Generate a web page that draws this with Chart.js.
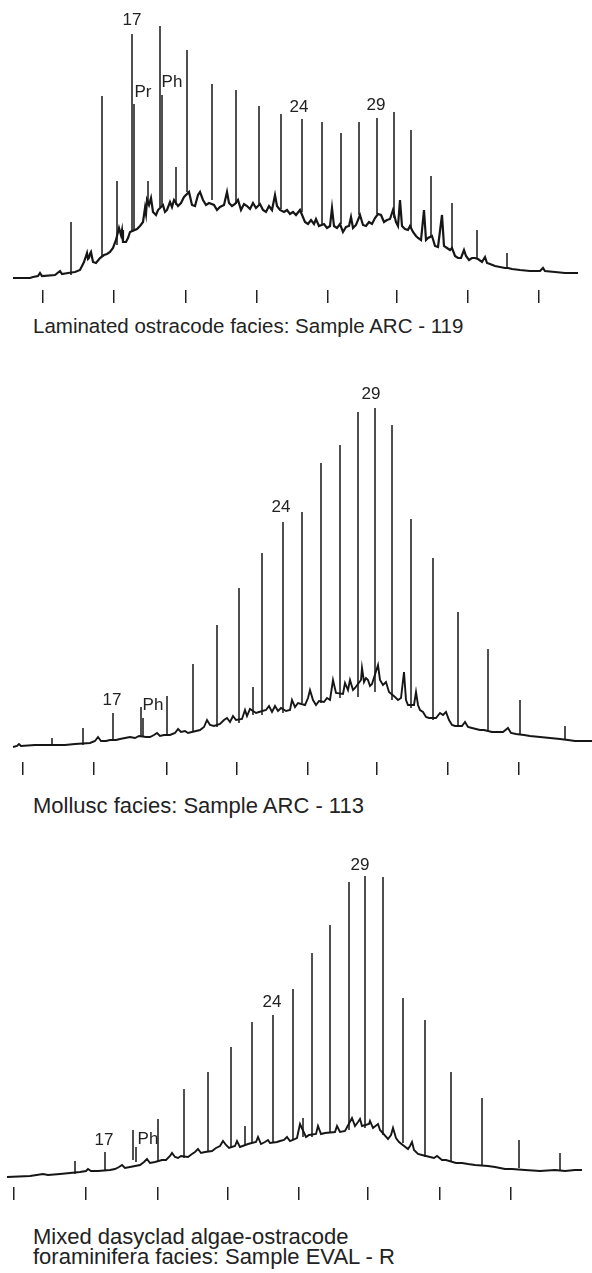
<!DOCTYPE html>
<html>
<head>
<meta charset="utf-8">
<title>n-alkane gas chromatograms</title>
<script src="https://cdn.jsdelivr.net/npm/chart.js@4.4.1/dist/chart.umd.min.js"></script>
<style>
  body { margin: 0; background: #fff; }
  #page { position: relative; width: 592px; height: 1273px; overflow: hidden; }
  canvas { position: absolute; left: 0; }
  .caption {
    position: absolute; left: 33px; white-space: nowrap;
    font: 22px/22px "Liberation Sans", Arial, sans-serif; color: #222;
  }
</style>
</head>
<body>
<div id="page">
  <canvas id="c1" width="592" height="303" style="top:0"></canvas>
  <div class="caption" style="top:315px;font-size:20.5px">Laminated ostracode facies: Sample ARC - 119</div>
  <canvas id="c2" width="592" height="395" style="top:380px"></canvas>
  <div class="caption" style="top:795px">Mollusc facies: Sample ARC - 113</div>
  <canvas id="c3" width="592" height="350" style="top:850px"></canvas>
  <div class="caption" style="top:1227px;line-height:20px">Mixed dasyclad algae-ostracode<br>foraminifera facies: Sample EVAL - R</div>
</div>
<script>
// retention positions of the time marks under each trace
const ticks1 = [43, 114, 186, 257, 328, 397, 468, 539];
const ticks2 = [23, 94, 167, 237, 308, 377, 448, 519];
const ticks3 = [14, 86, 158, 228, 299, 368, 440, 511];

// unresolved hump + small peaks: [retention, signal]
const hump1 = [[13,12],[30,12],[33,13],[38,14],[40,17],[42,14],[55,15],[60,19],[62,16],[68,17],[75,18],[80,20],
  [84,28],[86,34],[87,37],[88,31],[89,32],[90,36],[91,38],[93,28],[96,27],[100,32],[104,35],[107,36],[110,38],[113,42],[116,50],[119,62],
  [121,55],[122,60],[123,48],[126,48],[128,52],[130,58],[137,61],[140,64],[143,68],[145,82],[146,76],[147,90],[149,85],[151,92],
  [153,78],[156,75],[158,80],[163,85],[165,78],[167,80],[170,88],[172,83],[174,90],[178,84],[181,87],[184,93],
  [189,98],[192,85],[195,84],[198,95],[200,98],[203,90],[206,85],[209,87],[214,85],[217,80],[220,83],[224,85],
  [227,98],[229,87],[232,84],[235,86],[238,90],[241,80],[244,86],[247,84],[250,81],[253,87],[256,82],[260,86],
  [263,80],[266,78],[269,84],[272,80],[275,95],[277,84],[280,80],[284,78],[287,80],[290,76],[293,78],[296,75],
  [300,80],[305,68],[308,66],[311,70],[314,66],[316,71],[319,64],[324,66],[327,62],[330,64],[332,82],[334,64],
  [337,62],[340,66],[343,58],[346,63],[349,64],[351,73],[353,62],[356,65],[360,75],[363,65],[366,64],[369,68],
  [372,66],[375,72],[378,76],[381,75],[384,68],[387,70],[390,71],[393,80],[396,68],[398,64],[400,90],[402,64],
  [405,61],[408,60],[410,64],[413,58],[416,54],[418,52],[421,50],[424,80],[426,50],[428,52],[432,54],[435,44],
  [438,43],[442,75],[444,44],[447,42],[450,40],[452,42],[455,34],[458,32],[461,32],[464,40],[466,34],[469,30],
  [472,32],[475,32],[478,31],[482,28],[485,33],[487,27],[490,26],[495,24],[500,23],[505,22],[508,22],[512,21],
  [520,20],[530,19],[540,19],[543,22],[545,19],[555,18],[565,17],[578,17]];
const hump2 = [[13,15],[17,16],[19,18],[21,16],[35,17],[45,17],[55,17],[65,17],[75,18],[90,19],[95,21],[98,25],
  [101,21],[106,21],[110,22],[116,22],[120,23],[125,24],[130,25],[135,24],[139,26],[146,25],[150,25],[154,27],
  [157,29],[160,26],[164,27],[170,27],[175,29],[178,33],[181,30],[185,31],[188,29],[196,31],[200,32],[204,35],
  [207,42],[210,37],[214,36],[220,38],[224,42],[227,44],[230,40],[233,46],[236,42],[242,43],[245,52],[247,46],
  [250,53],[256,49],[259,50],[266,52],[269,56],[272,50],[275,56],[278,51],[281,54],[286,51],[290,52],[292,62],
  [295,55],[298,59],[305,57],[308,64],[310,72],[313,62],[316,57],[319,61],[324,60],[327,64],[330,62],[333,82],
  [336,69],[343,68],[345,79],[348,72],[350,82],[353,72],[355,74],[361,82],[362,94],[364,80],[366,84],[368,82],
  [370,76],[372,78],[378,97],[380,82],[383,77],[386,80],[389,70],[395,65],[398,62],[401,64],[404,90],[406,62],
  [408,57],[414,57],[416,70],[418,57],[420,52],[423,50],[426,45],[429,44],[436,44],[440,49],[443,47],[446,50],
  [449,42],[452,37],[455,36],[462,36],[465,40],[468,35],[472,34],[476,33],[480,32],[484,32],[492,30],[497,30],
  [503,30],[508,34],[511,29],[516,28],[524,27],[530,26],[540,25],[550,24],[560,23],[568,22],[575,21],[592,21]];
const hump3 = [[7,10],[30,11],[43,13],[48,12],[60,13],[70,14],[80,15],[86,16],[88,18],[91,16],[98,16],[110,17],
  [115,18],[119,20],[122,22],[125,19],[130,20],[140,22],[144,25],[147,28],[150,24],[155,25],[162,27],[166,27],
  [170,31],[172,34],[175,30],[178,29],[181,31],[188,30],[192,33],[195,35],[198,38],[201,34],[205,35],[212,36],
  [216,39],[220,41],[223,46],[226,42],[229,39],[235,41],[237,46],[240,40],[248,43],[256,45],[258,50],[261,43],
  [265,45],[268,47],[270,44],[277,45],[280,46],[284,47],[287,50],[290,46],[297,49],[300,63],[306,50],[309,52],
  [316,53],[318,61],[321,53],[325,54],[335,55],[337,61],[340,55],[345,56],[352,69],[355,61],[358,65],[360,68],
  [362,61],[369,63],[370,66],[373,59],[378,63],[380,57],[388,48],[391,52],[393,59],[396,49],[399,45],[408,38],
  [410,41],[412,45],[414,37],[418,33],[422,32],[430,30],[434,29],[437,31],[442,27],[446,27],[456,24],[462,24],
  [468,23],[475,22],[488,21],[495,20],[505,18],[512,18],[525,17],[540,16],[555,17],[565,16],[575,17],[582,17]];

// resolved peaks: [retention, signal at foot, signal at apex]
const peaks1 = [[71,15,68],[102,33,194],[117,45,109],[132,58,256],[134,60,186],[148,85,109],[160,83,264],
  [162,85,195],[176,85,123],[187,98,240],[212,90,206],[236,86,200],[259,86,184],[281,81,176],[302,78,171],
  [322,66,168],[341,66,157],[359,75,168],[377,76,172],[394,72,178],[411,62,160],[431,54,114],[452,40,87],
  [477,32,60],[507,22,37]];
const peaks2 = [[52,18,24],[83,17,34],[113,22,49],[141,25,55],[143,25,44],[167,27,66],[193,30,98],[217,35,137],
  [239,39,174],[253,47,75],[262,47,209],[283,49,240],[302,59,250],[321,59,299],[340,64,317],[358,65,350],
  [375,70,354],[392,62,337],[411,54,243],[433,42,204],[458,35,150],[488,32,113],[520,27,62],[565,22,36]];
const peaks3 = [[75,13,26],[105,16,35],[133,27,57],[136,25,40],[158,25,68],[184,29,98],[208,35,115],[231,40,140],
  [245,42,61],[252,44,165],[273,44,172],[293,47,198],[303,50,69],[312,50,234],[330,54,262],[349,57,305],
  [365,59,311],[383,52,310],[403,44,189],[425,30,167],[451,25,115],[482,22,89],[519,19,47],[560,17,34]];

// peak identifications: [text, retention, signal]
const names1 = [['17',132,270],['Pr',143,198],['Ph',172,208],['24',299,183],['29',376,185]];
const names2 = [['17',112,62],['Ph',153,57],['24',281,255],['29',371,368]];
const names3 = [['17',104,47],['Ph',148,48],['24',272,185],['29',360,322]];

const peakLabels = {
  id: 'peakLabels',
  afterDatasetsDraw(chart, args, opts) {
    const { ctx, scales: { x, y } } = chart;
    ctx.save();
    ctx.font = '17px "Liberation Sans", Arial, sans-serif';
    ctx.fillStyle = '#222';
    ctx.textAlign = 'center';
    ctx.textBaseline = 'middle';
    opts.names.forEach(([t, rx, ry]) => ctx.fillText(t, x.getPixelForValue(rx), y.getPixelForValue(ry)));
    ctx.restore();
  }
};

function drawTrace(id, hump, peaks, names, ticks, top, humpWidth) {
  // each peak becomes a vertical stroke, broken off from the next by a gap
  const spikes = [];
  peaks.forEach(([rt, foot, apex]) => {
    spikes.push({ x: rt, y: foot }, { x: rt, y: apex }, { x: rt, y: null });
  });

  new Chart(document.getElementById(id), {
    type: 'line',
    data: {
      datasets: [{
        data: hump.map(([x, y]) => ({ x, y })),
        borderColor: '#161616',
        borderWidth: humpWidth,
        pointRadius: 0,
        tension: 0
      }, {
        data: spikes,
        borderColor: '#161616',
        borderWidth: 1.5,
        pointRadius: 0,
        spanGaps: false
      }]
    },
    options: {
      responsive: false,
      animation: false,
      events: [],
      layout: { padding: 0 },
      plugins: {
        legend: { display: false },
        tooltip: { enabled: false },
        peakLabels: { names }
      },
      scales: {
        x: {
          type: 'linear',
          min: 0,
          max: 592,
          afterBuildTicks: axis => { axis.ticks = ticks.map(v => ({ value: v })); },
          ticks: { display: false },
          border: { display: false },
          grid: { drawOnChartArea: false, tickLength: 13, color: '#222', lineWidth: 1.5 }
        },
        y: { display: false, min: 0, max: top }
      }
    },
    plugins: [peakLabels]
  });
}

drawTrace('c1', hump1, peaks1, names1, ticks1, 290, 2.2);
drawTrace('c2', hump2, peaks2, names2, ticks2, 382, 1.9);
drawTrace('c3', hump3, peaks3, names3, ticks3, 337, 1.9);
</script>
</body>
</html>
